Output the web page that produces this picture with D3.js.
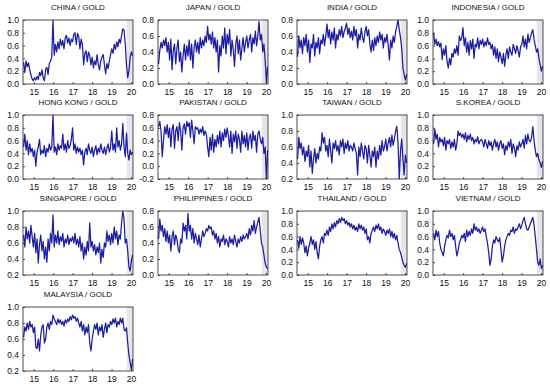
<!DOCTYPE html>
<html>
<head>
<meta charset="utf-8">
<script src="https://cdn.jsdelivr.net/npm/d3@7"></script>
<style>
  html, body { margin: 0; padding: 0; background: #fff; }
  svg { display: block; }
  text { font-family: "Liberation Sans", Arial, sans-serif; fill: #111; }
</style>
</head>
<body>
<svg id="chart" width="550" height="386"></svg>
<script>
// ---- data (weekly-ish samples, mid-2014 .. early 2020) ----
const titles = ["CHINA / GOLD","JAPAN / GOLD","INDIA / GOLD","INDONESIA / GOLD",
  "HONG KONG / GOLD","PAKISTAN / GOLD","TAIWAN / GOLD","S.KOREA / GOLD",
  "SINGAPORE / GOLD","PHILIPPINES / GOLD","THAILAND / GOLD","VIETNAM / GOLD",
  "MALAYSIA / GOLD"];

const yRanges = [[0,1],[0,0.8],[0,0.8],[0,1],[0,1],[-0.2,0.8],[0.2,1],[0,1],
  [0.2,1],[0,0.8],[0,1],[0,1],[0.2,1]];

const yearTicks = [15,16,17,18,19,20];

const china = [0.34,0.18,0.36,0.27,0.33,0.22,0.14,0.08, 0.05,0.10,0.06,0.12,0.07,0.18,0.13,0.22,
  0.10,0.05,0.23,0.26,0.15,0.32,0.36,0.42, 1.00,0.45,0.62,0.50,0.66,0.55,0.70,0.60,
  0.68,0.55,0.72,0.76,0.64,0.72,0.60,0.70, 0.66,0.78,0.80,0.62,0.79,0.74,0.55,0.70,
  0.62,0.30,0.48,0.52,0.35,0.50,0.44,0.30, 0.42,0.25,0.36,0.30,0.46,0.30,0.22,0.36,
  0.42,0.46,0.30,0.16,0.32,0.24,0.36,0.46, 0.55,0.48,0.62,0.54,0.66,0.58,0.70,0.64,
  0.76,0.86,0.84,0.62,0.30,0.10,0.20,0.42, 0.50,0.44];
const japan = [0.25,0.42,0.52,0.45,0.55,0.48,0.58,0.40, 0.52,0.30,0.56,0.18,0.42,0.50,0.25,0.45,
  0.55,0.28,0.40,0.15,0.35,0.50,0.30,0.48, 0.35,0.55,0.30,0.50,0.20,0.45,0.55,0.40,
  0.52,0.38,0.58,0.45,0.55,0.48,0.60,0.52, 0.72,0.55,0.62,0.50,0.65,0.45,0.58,0.40,
  0.55,0.15,0.48,0.35,0.60,0.45,0.70,0.38, 0.62,0.50,0.68,0.35,0.55,0.42,0.22,0.50,
  0.60,0.38,0.55,0.30,0.45,0.58,0.40,0.52, 0.60,0.45,0.55,0.62,0.40,0.58,0.50,0.66,
  0.48,0.60,0.78,0.55,0.62,0.40,0.50,0.30, 0.02,0.22];
const india = [0.34,0.60,0.45,0.55,0.38,0.58,0.48,0.62, 0.40,0.55,0.27,0.50,0.45,0.62,0.35,0.52,
  0.45,0.58,0.38,0.55,0.50,0.62,0.48,0.60, 0.75,0.58,0.68,0.50,0.65,0.55,0.70,0.45,
  0.62,0.55,0.68,0.60,0.72,0.58,0.65,0.70, 0.76,0.62,0.70,0.58,0.66,0.55,0.72,0.60,
  0.68,0.45,0.62,0.55,0.70,0.58,0.52,0.65, 0.72,0.60,0.68,0.50,0.40,0.55,0.42,0.58,
  0.48,0.60,0.52,0.65,0.55,0.62,0.45,0.58, 0.52,0.62,0.48,0.30,0.55,0.45,0.60,0.52,
  0.65,0.72,0.80,0.68,0.58,0.45,0.20,0.12, 0.05,0.12];
const indonesia = [0.80,0.62,0.70,0.60,0.66,0.58,0.64,0.38, 0.55,0.45,0.60,0.35,0.25,0.40,0.30,0.48,
  0.42,0.55,0.48,0.60,0.45,0.75,0.68,0.72, 0.88,0.60,0.72,0.50,0.65,0.45,0.68,0.55,
  0.70,0.40,0.62,0.58,0.72,0.55,0.68,0.62, 0.70,0.58,0.66,0.60,0.72,0.62,0.65,0.55,
  0.62,0.45,0.58,0.40,0.55,0.35,0.50,0.42, 0.32,0.48,0.28,0.45,0.55,0.40,0.58,0.50,
  0.45,0.62,0.55,0.48,0.60,0.52,0.42,0.58, 0.62,0.75,0.58,0.70,0.55,0.78,0.65,0.72,
  0.80,0.85,0.70,0.60,0.50,0.55,0.40,0.30, 0.20,0.28];
const hongkong = [0.50,0.70,0.45,0.60,0.38,0.55,0.42,0.48, 0.35,0.45,0.20,0.42,0.50,0.62,0.38,0.45,
  0.40,0.52,0.35,0.48,0.42,0.55,0.45,0.50, 1.00,0.42,0.50,0.38,0.55,0.45,0.52,0.48,
  0.70,0.45,0.55,0.42,0.60,0.48,0.52,0.62, 0.80,0.45,0.55,0.40,0.50,0.42,0.48,0.38,
  0.45,0.22,0.42,0.48,0.38,0.55,0.45,0.40, 0.50,0.35,0.45,0.52,0.38,0.48,0.42,0.55,
  0.45,0.40,0.50,0.38,0.48,0.55,0.42,0.50, 0.75,0.45,0.55,0.42,0.80,0.50,0.60,0.45,
  0.55,0.87,0.50,0.35,0.72,0.40,0.30,0.45, 0.38,0.42];
const pakistan = [0.62,0.70,0.55,0.15,0.40,0.62,0.50,0.65, 0.45,0.60,0.30,0.58,0.65,0.28,0.55,0.62,
  0.40,0.68,0.55,0.25,0.60,0.66,0.50,0.70, 0.62,0.68,0.45,0.72,0.55,0.35,0.62,0.58,
  0.60,0.50,0.58,0.52,0.62,0.48,0.55,0.50, 0.30,0.15,0.45,0.25,0.50,0.22,0.42,0.30,
  0.48,0.35,0.55,0.30,0.52,0.40,0.58,0.45, 0.60,0.48,0.30,0.55,0.20,0.50,0.38,0.55,
  0.28,0.50,0.42,0.22,0.55,0.35,0.48,0.30, 0.52,0.25,0.45,0.50,0.28,0.55,0.40,0.48,
  0.22,0.50,0.55,0.42,0.35,0.45,0.20,0.30, -0.20,0.25];
const taiwan = [0.45,0.72,0.58,0.65,0.50,0.60,0.42,0.55, 0.48,0.62,0.35,0.55,0.27,0.45,0.58,0.40,
  0.52,0.45,0.60,0.55,0.78,0.65,0.72,0.55, 0.62,0.48,0.70,0.55,0.40,0.65,0.58,0.68,
  0.55,0.62,0.50,0.68,0.60,0.70,0.52,0.65, 0.58,0.68,0.55,0.62,0.60,0.55,0.65,0.58,
  0.52,0.25,0.60,0.48,0.65,0.55,0.45,0.62, 0.58,0.40,0.62,0.50,0.35,0.55,0.48,0.60,
  0.35,0.55,0.45,0.62,0.50,0.68,0.55,0.60, 0.70,0.55,0.65,0.72,0.60,0.75,0.62,0.70,
  0.80,0.86,0.65,0.20,0.55,0.70,0.45,0.25, 0.50,0.40];
const skorea = [0.55,0.78,0.62,0.70,0.50,0.65,0.58,0.62, 0.52,0.65,0.45,0.60,0.55,0.62,0.48,0.58,
  0.50,0.62,0.45,0.55,0.75,0.68,0.72,0.65, 0.70,0.62,0.72,0.58,0.68,0.62,0.70,0.60,
  0.65,0.55,0.62,0.58,0.66,0.55,0.60,0.62, 0.58,0.50,0.62,0.55,0.48,0.60,0.52,0.58,
  0.45,0.55,0.62,0.50,0.58,0.45,0.55,0.60, 0.48,0.55,0.38,0.52,0.45,0.58,0.50,0.62,
  0.40,0.55,0.48,0.35,0.52,0.45,0.58,0.50, 0.55,0.62,0.48,0.68,0.55,0.70,0.60,0.58,
  0.65,0.82,0.60,0.45,0.35,0.40,0.30,0.25, 0.18,0.28];
const singapore = [0.70,0.55,0.80,0.65,0.75,0.60,0.82,0.68, 0.55,0.72,0.48,0.65,0.35,0.58,0.70,0.50,
  0.62,0.40,0.55,0.36,0.65,0.50,0.72,0.60, 0.95,0.55,0.70,0.60,0.75,0.58,0.68,0.62,
  0.72,0.55,0.65,0.60,0.70,0.58,0.66,0.62, 0.68,0.60,0.72,0.58,0.65,0.55,0.68,0.50,
  0.60,0.40,0.55,0.45,0.62,0.50,0.85,0.55, 0.62,0.50,0.58,0.45,0.55,0.48,0.60,0.35,
  0.52,0.42,0.60,0.55,0.75,0.62,0.70,0.58, 0.72,0.60,0.80,0.65,0.75,0.58,0.70,0.65,
  0.85,1.00,0.90,0.60,0.65,0.50,0.30,0.25, 0.38,0.45];
const philippines = [0.45,0.70,0.55,0.62,0.48,0.58,0.42,0.55, 0.40,0.50,0.30,0.48,0.55,0.38,0.50,0.45,
  0.32,0.28,0.45,0.40,0.65,0.55,0.62,0.45, 0.77,0.55,0.62,0.45,0.58,0.40,0.52,0.45,
  0.38,0.50,0.35,0.45,0.55,0.48,0.52,0.58, 0.55,0.62,0.58,0.60,0.50,0.55,0.45,0.52,
  0.40,0.48,0.35,0.45,0.42,0.50,0.38,0.45, 0.42,0.35,0.48,0.40,0.45,0.38,0.50,0.42,
  0.35,0.45,0.40,0.48,0.42,0.50,0.45,0.48, 0.52,0.45,0.58,0.50,0.62,0.55,0.68,0.52,
  0.60,0.66,0.72,0.55,0.40,0.35,0.25,0.15, 0.10,0.08];
const thailand = [0.55,0.42,0.60,0.48,0.58,0.50,0.35,0.45, 0.30,0.42,0.50,0.60,0.48,0.55,0.40,0.52,
  0.35,0.25,0.45,0.55,0.60,0.50,0.65,0.62, 0.70,0.62,0.75,0.68,0.80,0.72,0.82,0.75,
  0.85,0.80,0.88,0.82,0.90,0.85,0.88,0.80, 0.85,0.78,0.82,0.75,0.80,0.72,0.78,0.70,
  0.75,0.68,0.80,0.72,0.78,0.70,0.75,0.65, 0.72,0.55,0.60,0.50,0.65,0.70,0.75,0.68,
  0.78,0.72,0.80,0.70,0.75,0.65,0.72,0.68, 0.62,0.70,0.65,0.72,0.60,0.68,0.58,0.65,
  0.55,0.62,0.50,0.40,0.35,0.28,0.20,0.15, 0.12,0.18];
const vietnam = [0.65,0.55,0.70,0.60,0.68,0.50,0.40,0.35, 0.30,0.45,0.55,0.62,0.58,0.70,0.60,0.65,
  0.55,0.62,0.45,0.30,0.38,0.50,0.55,0.62, 0.58,0.65,0.52,0.70,0.60,0.68,0.62,0.72,
  0.65,0.80,0.70,0.75,0.68,0.72,0.65,0.70, 0.75,0.68,0.72,0.60,0.50,0.35,0.15,0.25,
  0.45,0.55,0.50,0.60,0.55,0.52,0.58,0.40, 0.20,0.30,0.45,0.55,0.60,0.65,0.62,0.70,
  0.68,0.75,0.65,0.72,0.70,0.75,0.80,0.72, 0.78,0.85,0.90,0.80,0.72,0.70,0.75,0.80,
  0.85,0.90,0.78,0.60,0.40,0.20,0.15,0.25, 0.10,0.15];
const malaysia = [0.62,0.75,0.70,0.80,0.72,0.82,0.75,0.78, 0.68,0.75,0.50,0.48,0.60,0.45,0.65,0.75,
  0.78,0.55,0.60,0.75,0.80,0.72,0.82,0.78, 0.90,0.85,0.82,0.78,0.85,0.80,0.84,0.78,
  0.82,0.76,0.84,0.80,0.85,0.82,0.88,0.84, 0.90,0.86,0.88,0.82,0.86,0.80,0.75,0.82,
  0.70,0.78,0.65,0.75,0.68,0.78,0.55,0.45, 0.60,0.70,0.78,0.72,0.80,0.65,0.75,0.70,
  0.78,0.62,0.72,0.80,0.68,0.78,0.75,0.82, 0.78,0.85,0.80,0.86,0.75,0.82,0.78,0.86,
  0.80,0.86,0.72,0.70,0.74,0.55,0.40,0.30, 0.22,0.35];

const seriesList = [china, japan, india, indonesia, hongkong, pakistan, taiwan, skorea,
  singapore, philippines, thailand, vietnam, malaysia];

// ---- layout ----
const colLeft = [23, 158, 297, 433];
const rowTop = [20, 115, 211, 307];
const pw = 110, ph = 64;
const tStart = 14.48, tEnd = 20.08;   // time span of samples
const xDomain = [14.45, 20.1];

const svg = d3.select("#chart");
const fmt = d3.format(".1f");

seriesList.forEach((vals, k) => {
  const col = k % 4, row = Math.floor(k / 4);
  const left = colLeft[col], top = rowTop[row];
  const g = svg.append("g").attr("transform", `translate(${left},${top})`);

  const x = d3.scaleLinear().domain(xDomain).range([0, pw]);
  const [y0, y1] = yRanges[k];
  const y = d3.scaleLinear().domain([y0, y1]).range([ph, 0]);
  const tIdx = d3.scaleLinear().domain([0, vals.length - 1]).range([tStart, tEnd]);

  // shaded final period
  g.append("rect")
    .attr("x", x(19.78)).attr("y", 0)
    .attr("width", pw - x(19.78)).attr("height", ph)
    .attr("fill", "#e6e6ea");

  // clip
  const cid = "clip" + k;
  g.append("clipPath").attr("id", cid).append("rect")
    .attr("width", pw).attr("height", ph);

  const line = d3.line()
    .x((d, i) => x(tIdx(i)))
    .y(d => y(d));

  g.append("path")
    .datum(vals)
    .attr("clip-path", `url(#${cid})`)
    .attr("fill", "none")
    .attr("stroke", "#1c1ca6")
    .attr("stroke-width", 1.25)
    .attr("stroke-linejoin", "round")
    .attr("d", line);

  // frame
  g.append("rect")
    .attr("width", pw).attr("height", ph)
    .attr("fill", "none").attr("stroke", "#222").attr("stroke-width", 0.8);

  // y axis
  const yt = d3.range(Math.round(y0 * 10), Math.round(y1 * 10) + 1, 2).map(v => v / 10);
  const yAxis = d3.axisLeft(y).tickValues(yt).tickSize(-2).tickPadding(4)
    .tickFormat(d => fmt(d).replace("\u2212", "-"));
  const ya = g.append("g").call(yAxis);
  ya.select(".domain").remove();
  ya.selectAll("line").attr("stroke", "#222").attr("stroke-width", 0.8);
  ya.selectAll("text").attr("font-size", 8.5).attr("fill", "#111")
    .attr("font-family", "Liberation Sans, Arial, sans-serif");

  // x axis
  const xAxis = d3.axisBottom(x).tickValues(yearTicks).tickSize(-2).tickPadding(5)
    .tickFormat(d => String(d));
  const xa = g.append("g").attr("transform", `translate(0,${ph})`).call(xAxis);
  xa.select(".domain").remove();
  xa.selectAll("line").attr("stroke", "#222").attr("stroke-width", 0.8);
  xa.selectAll("text").attr("font-size", 8.5).attr("fill", "#111")
    .attr("font-family", "Liberation Sans, Arial, sans-serif");

  // title
  g.append("text")
    .attr("x", pw / 2).attr("y", -10)
    .attr("text-anchor", "middle")
    .attr("font-size", 8)
    .text(titles[k]);
});
</script>
</body>
</html>
